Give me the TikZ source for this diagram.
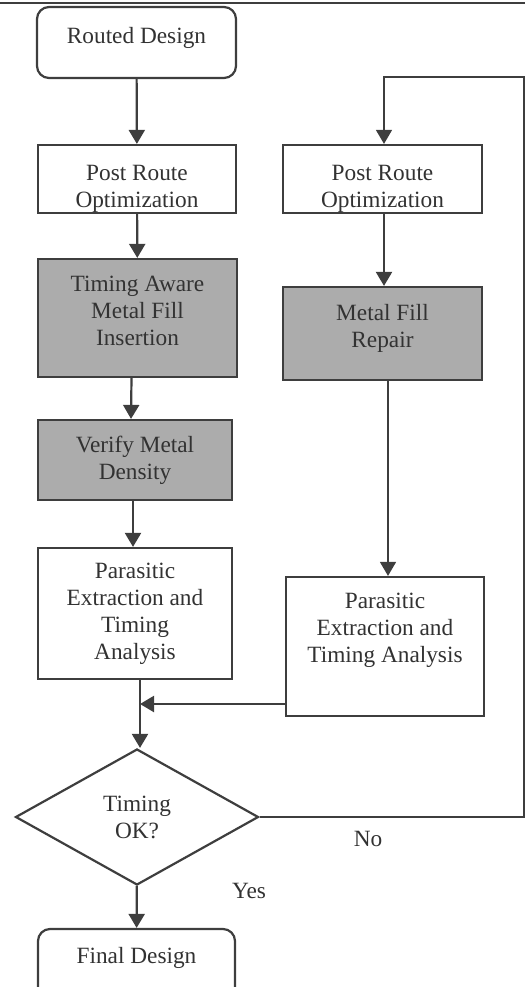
\documentclass[tikz,border=0pt]{standalone}
\usepackage{fontspec}
\setmainfont{Liberation Serif}
\usepackage{tikz}
\usetikzlibrary{shapes.geometric, arrows.meta, positioning, calc}
\definecolor{mydark}{RGB}{62,62,62}
\definecolor{mytext}{RGB}{50,50,50}
\definecolor{myfill}{RGB}{172,172,172}
\tikzset{
  block/.style={rectangle, draw=mydark, fill=white, text=mytext,
    align=center, inner sep=0pt, line width=2.2pt,
    font=\fontsize{23.3}{27}\selectfont},
  grayblock/.style={block, fill=myfill},
  termblock/.style={block, rounded corners=12pt},
  decision/.style={diamond, draw=mydark, fill=white, text=mytext,
    align=center, inner sep=0pt, aspect=1.8, line width=2.2pt,
    font=\fontsize{23.3}{27}\selectfont},
  lbl/.style={text=mytext, font=\fontsize{23.3}{27}\selectfont},
  arrow/.style={-{Triangle[width=16pt,length=14pt]}, line width=2.2pt, color=mydark},
  thinarrow/.style={arrow, line width=1.4pt},
  line/.style={line width=1.4pt, color=mydark}
}
\begin{document}
\begin{tikzpicture}[x=1pt, y=-1pt]
  \useasboundingbox (0,0) rectangle (525,987);
  \draw[line] (0,3) -- (525,3);

  \node[termblock, minimum width=199pt, minimum height=71pt, text depth=15pt] (routed) at (136.5,42.5) {Routed Design};
  \node[block, minimum width=198pt, minimum height=68pt, text height=62pt] (lpro) at (137,179) {Post Route\\Optimization};
  \node[block, minimum width=199pt, minimum height=68pt, text height=62pt] (rpro) at (382.5,179) {Post Route\\Optimization};
  \node[grayblock, minimum width=199pt, minimum height=118pt, text depth=15pt] (insert) at (137.5,318) {Timing Aware\\Metal Fill\\Insertion};
  \node[grayblock, minimum width=199pt, minimum height=93pt, text depth=15pt] (repair) at (382.5,333.5) {Metal Fill\\Repair};
  \node[grayblock, minimum width=194pt, minimum height=80pt] (verify) at (135,460) {Verify Metal\\Density};
  \node[block, minimum width=194pt, minimum height=131pt] (lpar) at (135,613.5) {Parasitic\\Extraction and\\Timing\\Analysis};
  \node[block, minimum width=198pt, minimum height=139pt, text depth=37pt] (rpar) at (385,646.5) {Parasitic\\Extraction and\\Timing Analysis};
  \node[decision, minimum width=243pt, minimum height=136pt] (check) at (137,817) {Timing\\OK?};
  \node[termblock, minimum width=197pt, minimum height=70pt, text depth=17pt] (final) at (136.5,964) {Final Design};

  \node[lbl] (no) at (368,839) {No};
  \node[lbl] (yes) at (249,891) {Yes};

  \coordinate (join) at (140,704);
  \coordinate (se) at (524,817);
  \coordinate (ne) at (524,77);

  \draw[arrow] (routed) -- (lpro);
  \draw[arrow] (lpro) -- (insert);
  \draw[arrow] ([xshift=-6pt]insert.south) -- ([xshift=-4pt]verify.north);
  \draw[arrow] ([xshift=-2pt]verify.south) -- ([xshift=-2pt]lpar.north);
  \draw[arrow] (join |- lpar.south) -- (join |- check.north);
  \draw[arrow] (rpar.west |- join) -- (join);
  \draw[arrow] (check) -- (final);
  \draw[thinarrow] (check.east) -- (se) -- (ne) -| ([xshift=1.5pt]rpro.north);
  \draw[arrow] ([xshift=1.5pt]rpro.south) -- ([xshift=1.5pt]repair.north);
  \draw[thinarrow] ([xshift=5.5pt]repair.south) -- ([xshift=3pt]rpar.north);
\end{tikzpicture}
\end{document}
